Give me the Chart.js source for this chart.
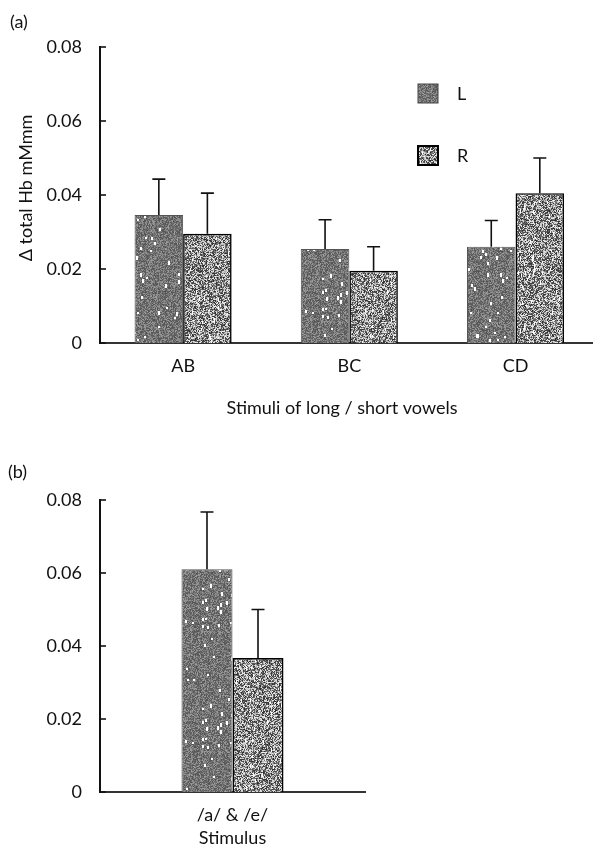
<!DOCTYPE html>
<html><head><meta charset="utf-8">
<script src="https://cdn.jsdelivr.net/npm/chart.js@4/dist/chart.umd.min.js"></script>
<style>
html,body{margin:0;padding:0;background:#fff;overflow:hidden}
#ca{position:absolute;left:0;top:0}
#cb{position:absolute;left:0;top:430px}
</style></head><body>
<canvas id="ca" width="594" height="430"></canvas>
<canvas id="cb" width="594" height="421"></canvas>
<script>
// ---- data ----
const categoriesA = ['AB', 'BC', 'CD'];
const positionsA = [0.5, 1.5, 2.5];
const valuesAL = [0.0346, 0.0254, 0.0260];
const valuesAR = [0.0295, 0.0195, 0.0405];
const errorsAL = [0.0097, 0.0079, 0.0071];
const errorsAR = [0.0110, 0.0065, 0.0095];
const categoriesB = ['/a/ & /e/'];
const valuesBL = [0.0610];
const valuesBR = [0.0367];
const errorsBL = [0.0157];
const errorsBR = [0.0133];
const yTickValues = [0, 0.02, 0.04, 0.06, 0.08];
const seriesNames = ['L', 'R'];

const FONT = 'Lato, "Open Sans", sans-serif';
const FS = 18;

function rng(seed){let s=seed>>>0;return()=>{s=(s*1664525+1013904223)>>>0;return s/4294967296;};}
function makePattern(kind){
  const N=120;
  const c=document.createElement('canvas'); c.width=c.height=N;
  const g=c.getContext('2d');
  const r=rng(kind==='L'?12345:67890);
  const img=g.createImageData(N,N);
  for(let i=0;i<N*N;i++){
    let v;
    if(kind==='L'){ v = r()<0.5 ? 80+r()*30 : 115+r()*45; }
    else { v = r()<0.55 ? 40+r()*90 : 170+r()*75; }
    img.data[i*4]=img.data[i*4+1]=img.data[i*4+2]=v; img.data[i*4+3]=255;
  }
  g.putImageData(img,0,0);
  g.fillStyle='#fff';
  const n = kind==='L'?70:90;
  for(let k=0;k<n;k++){
    const x=Math.floor(r()*N), y=Math.floor(r()*N);
    g.fillRect(x,y,kind==='L'?2:1,2+Math.floor(r()*3));
  }
  return g.createPattern(c,'repeat');
}
const patL = makePattern('L');
const patR = makePattern('R');

const decor = {
  id:'decor',
  afterDatasetsDraw(chart){
    const ctx=chart.ctx, y=chart.scales.y;
    chart.data.datasets.forEach((ds,di)=>{
      const meta=chart.getDatasetMeta(di);
      meta.data.forEach((el,i)=>{
        const d=ds.data[i]; const val=(typeof d==='object')?d.y:d;
        const top=y.getPixelForValue(val+ds.errors[i]);
        ctx.save(); ctx.strokeStyle='#111'; ctx.lineWidth=1.6;
        ctx.beginPath();
        ctx.moveTo(el.x, el.y); ctx.lineTo(el.x, top);
        ctx.moveTo(el.x-6.5, top); ctx.lineTo(el.x+6.5, top);
        ctx.stroke(); ctx.restore();
      });
    });
  },
  afterDraw(chart, args, o){
    const ctx=chart.ctx, y=chart.scales.y, a=chart.chartArea;
    ctx.save();
    ctx.strokeStyle='#111'; ctx.lineWidth=1.6;
    y.ticks.forEach(t=>{
      const py=y.getPixelForValue(t.value);
      ctx.beginPath(); ctx.moveTo(a.left, py); ctx.lineTo(a.left+6, py); ctx.stroke();
    });
    ctx.fillStyle='#111';
    ctx.font=FS+'px '+FONT; ctx.textAlign='left'; ctx.textBaseline='middle';
    ctx.fillText(o.panel, o.panelX, o.panelY);
    if(o.yTitle){
      ctx.save(); ctx.translate(o.yTitleX, o.yTitleY); ctx.rotate(-Math.PI/2);
      ctx.textAlign='center'; ctx.textBaseline='middle'; ctx.font=FS+'px '+FONT;
      ctx.fillText(o.yTitle,0,0); ctx.restore();
    }
    ctx.font=FS+'px '+FONT; ctx.textAlign='center'; ctx.textBaseline='middle';
    ctx.fillText(o.xTitle, (a.left+a.right)/2 + (o.xTitleDx||0), o.xTitleY);
    if(o.legend){
      chart.data.datasets.forEach((ds,di)=>{
        const bx=o.legendX, by=o.legendY+di*o.legendGap;
        ctx.fillStyle=ds.backgroundColor; ctx.fillRect(bx,by,20,19);
        ctx.strokeStyle=di===0?'#444':'#000'; ctx.lineWidth=di===0?1:2;
        ctx.strokeRect(bx,by,20,19);
        ctx.fillStyle='#111'; ctx.font=FS+'px '+FONT; ctx.textAlign='left'; ctx.textBaseline='middle';
        ctx.fillText(ds.label, bx+39, by+10);
      });
    }
    ctx.restore();
  }
};

function yScale(){
  return {
    min:0, max:0.08,
    afterBuildTicks(s){ s.ticks = yTickValues.map(v=>({value:v})); },
    grid:{display:false, drawTicks:false},
    border:{display:true, color:'#111', width:2},
    ticks:{ padding:18, color:'#111', font:{family:FONT, size:FS},
      callback:(v)=> v===0 ? '0' : v.toFixed(2) },
    afterFit(s){ s.width=100; }
  };
}
function barDs(label, data, errors, pat, i){
  return { label, data, errors, backgroundColor:pat,
    borderColor: i===0 ? '#555' : '#000', borderWidth: i===0 ? 1 : 1.6,
    borderSkipped:'bottom' };
}

new Chart(document.getElementById('ca'), {
  type:'bar',
  data:{ datasets:[
    barDs(seriesNames[0], positionsA.map((x,i)=>({x, y:valuesAL[i]})), errorsAL, patL, 0),
    barDs(seriesNames[1], positionsA.map((x,i)=>({x, y:valuesAR[i]})), errorsAR, patR, 1)
  ]},
  options:{
    responsive:false, animation:false, devicePixelRatio:1,
    categoryPercentage:0.584, barPercentage:1,
    layout:{padding:{left:0,right:2,top:47,bottom:0}},
    plugins:{ legend:{display:false}, tooltip:{enabled:false},
      decor:{ panel:'(a)', panelX:10, panelY:22, yTitle:'\u0394 total Hb mMmm', yTitleX:26, yTitleY:188,
        xTitle:'Stimuli of long / short vowels', xTitleY:408, xTitleDx:-4,
        legend:true, legendX:418, legendY:84, legendGap:62 } },
    scales:{
      x:{ type:'linear', min:0, max:2.96, offset:false,
        afterBuildTicks(s){ s.ticks = positionsA.map(v=>({value:v})); },
        grid:{display:false, drawTicks:false},
        border:{display:true, color:'#333', width:2},
        ticks:{ padding:12, color:'#111', font:{family:FONT, size:FS}, maxRotation:0, autoSkip:false,
          callback:(v,i)=>categoriesA[i] },
        afterFit(s){ s.height=87; } },
      y: yScale()
    }
  },
  plugins:[decor]
});

new Chart(document.getElementById('cb'), {
  type:'bar',
  data:{ labels:categoriesB, datasets:[
    barDs(seriesNames[0], valuesBL, errorsBL, patL, 0),
    barDs(seriesNames[1], valuesBR, errorsBR, patR, 1)
  ]},
  options:{
    responsive:false, animation:false, devicePixelRatio:1,
    categoryPercentage:0.385, barPercentage:1,
    layout:{padding:{left:0,right:229,top:70,bottom:0}},
    plugins:{ legend:{display:false}, tooltip:{enabled:false},
      decor:{ panel:'(b)', panelX:8, panelY:42, xTitle:'Stimulus', xTitleY:408, legend:false } },
    scales:{
      x:{ grid:{display:false, drawTicks:false},
        border:{display:true, color:'#333', width:2},
        ticks:{ padding:12, color:'#111', font:{family:FONT, size:FS}, maxRotation:0 },
        afterFit(s){ s.height=59; } },
      y: yScale()
    }
  },
  plugins:[decor]
});
</script>
</body></html>
